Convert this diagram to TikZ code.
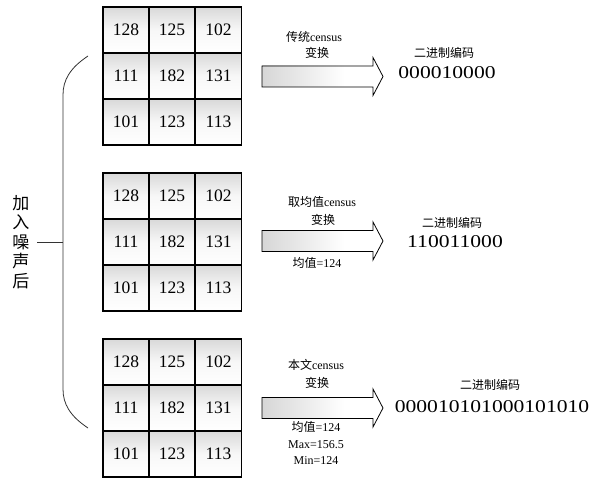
\documentclass[tikz,border=0pt]{standalone}
\usepackage{fontspec}
\setmainfont{Liberation Serif}
\newfontfamily\cjk{Noto Sans CJK SC}
\usepackage{graphicx}
\tikzset{
  cell/.style={draw=black, line width=1.1pt, minimum width=46pt, minimum height=46pt,
    inner sep=0pt, top color=gray!30, bottom color=white, middle color=gray!6,
    font=\fontsize{17.5}{20}\selectfont},
  lbl/.style={inner sep=0pt, font=\fontsize{12}{14}\selectfont},
  bin/.style={inner sep=0pt, font=\fontsize{18}{20}\selectfont},
  arrowline/.style={draw=black, line width=0.8pt},
  bracel/.style={draw=black!80, line width=0.8pt}
}
\newcommand\blkarrow[2]{%
  \coordinate (#2) at (322,#1);
  \shade[left color=gray!32, right color=white] (262,{#1-10.5}) rectangle (345,{#1+10.5});
  \draw[arrowline] (262,{#1-10.5}) -- (373,{#1-10.5}) -- (373,{#1-19}) -- (383,#1)
     -- (373,{#1+19}) -- (373,{#1+10.5}) -- (262,{#1+10.5}) -- cycle;
}
\begin{document}
\begin{tikzpicture}[x=1pt,y=-1pt]
\useasboundingbox[fill=white] (0,0) rectangle (608,478);
% grids
\foreach \g/\t in {1/7,2/173,3/339}{
  \foreach \r/\a/\b/\c in {0/128/125/102,1/111/182/131,2/101/123/113}{
    \node[cell] (g\g r\r c0) at (126,{\t+23+46*\r}) {\a};
    \node[cell] (g\g r\r c1) at (172,{\t+23+46*\r}) {\b};
    \node[cell] (g\g r\r c2) at (218.5,{\t+23+46*\r}) {\c};
  }
}
% arrows
\blkarrow{76.5}{arA}
\blkarrow{241}{arB}
\blkarrow{408}{arC}
% arrow labels
\node[lbl] (t1a) at (314,37) {{\cjk 传统}census};
\node[lbl] (t1b) at (317,53) {\cjk 变换};
\node[lbl] (t2a) at (322,202) {{\cjk 取均值}census};
\node[lbl] (t2b) at (323,220) {\cjk 变换};
\node[lbl] (t2c) at (317,263) {{\cjk 均值}=124};
\node[lbl] (t3a) at (316,365) {{\cjk 本文}census};
\node[lbl] (t3b) at (317,383) {\cjk 变换};
\node[lbl] (t3c) at (316,427) {{\cjk 均值}=124};
\node[lbl] (t3d) at (316,445) {Max=156.5};
\node[lbl] (t3e) at (316,461) {Min=124};
% binary codes
\node[lbl] (b1a) at (444,53) {\cjk 二进制编码};
\node[bin] (b1b) at (447,73) {\scalebox{1.2}[1]{000010000}};
\node[lbl] (b2a) at (452,223) {\cjk 二进制编码};
\node[bin] (b2b) at (455,242) {\scalebox{1.2}[1]{110011000}};
\node[lbl] (b3a) at (490,385) {\cjk 二进制编码};
\node[bin] (b3b) at (492,407) {\scalebox{1.2}[1]{000010101000101010}};
% brace and label
\node[inner sep=0pt, align=center, font=\cjk\fontsize{17}{19.5}\selectfont] (noise) at (21,242) {加\\入\\噪\\声\\后};
\coordinate (tickL) at (37,242);
\coordinate (tickR) at (63,242);
\coordinate (brTop) at (88,56);
\coordinate (brBot) at (88,428);
\draw[bracel] (brTop) .. controls (70,68) and (63,80) .. (63,95) -- (63,389)
   .. controls (63,404) and (70,416) .. (brBot);
\draw[bracel] (tickL) -- (tickR);
\end{tikzpicture}
\end{document}
